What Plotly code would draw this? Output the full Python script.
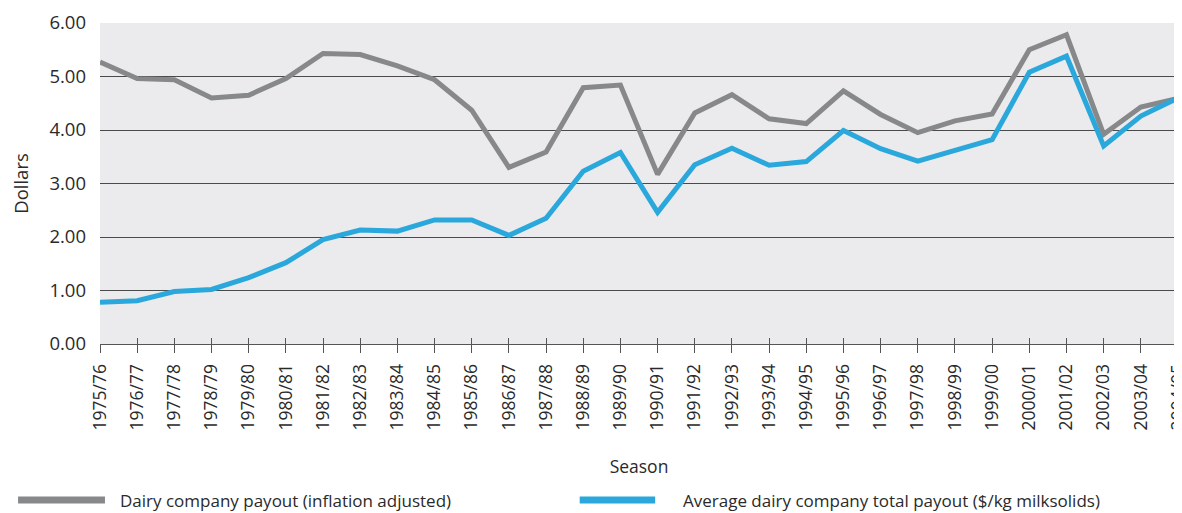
import plotly.graph_objects as go

seasons = ["1975/76", "1976/77", "1977/78", "1978/79", "1979/80", "1980/81",
           "1981/82", "1982/83", "1983/84", "1984/85", "1985/86", "1986/87",
           "1987/88", "1988/89", "1989/90", "1990/91", "1991/92", "1992/93",
           "1993/94", "1994/95", "1995/96", "1996/97", "1997/98", "1998/99",
           "1999/00", "2000/01", "2001/02", "2002/03", "2003/04", "2004/05"]

payout_inflation_adj = [5.27, 4.96, 4.94, 4.60, 4.65, 4.96, 5.43, 5.41, 5.20, 4.94,
                        4.37, 3.30, 3.59, 4.79, 4.84, 3.17, 4.32, 4.66, 4.21, 4.12,
                        4.73, 4.29, 3.95, 4.17, 4.30, 5.50, 5.78, 3.92, 4.43, 4.59]

payout_total = [0.78, 0.81, 0.98, 1.02, 1.24, 1.52, 1.95, 2.13, 2.11, 2.32,
                2.32, 2.03, 2.35, 3.23, 3.58, 2.46, 3.35, 3.66, 3.34, 3.41,
                3.99, 3.65, 3.42, 3.61, 3.82, 5.08, 5.38, 3.70, 4.26, 4.60]

y_ticks = [0, 1, 2, 3, 4, 5, 6]

name_gray = "Dairy company payout (inflation adjusted)"
name_blue = "Average dairy company total payout ($/kg milksolids)"

GRAY = "#87888A"
BLUE = "#2AA8DC"
TXT = "#2a2a2a"
FONT = "Open Sans"

fig = go.Figure()
fig.add_trace(go.Scatter(x=seasons, y=payout_inflation_adj, mode="lines", name=name_gray,
                         line=dict(color=GRAY, width=5), showlegend=False))
fig.add_trace(go.Scatter(x=seasons, y=payout_total, mode="lines", name=name_blue,
                         line=dict(color=BLUE, width=5), showlegend=False))
# invisible trace to carry the overlay axis (inner half of crossing ticks)
fig.add_trace(go.Scatter(x=seasons, y=payout_total, mode="lines", xaxis="x2",
                         line=dict(width=0), opacity=0, showlegend=False, hoverinfo="skip"))

# page has an 8px body margin, so the figure is 8px smaller than the window
fig.update_layout(
    width=1174, height=505,
    margin=dict(l=92, r=4, t=15, b=169),
    paper_bgcolor="white",
    plot_bgcolor="#EBEBED",
    font=dict(family=FONT, color=TXT),
    xaxis=dict(type="category", categoryarray=seasons, range=[0, len(seasons) - 1],
               automargin=False, ticklabeloverflow="allow",
               showgrid=False, showline=True, linecolor="#555", linewidth=1,
               ticks="outside", ticklen=8, tickcolor="#555", tickwidth=1,
               ticklabelstandoff=4,
               tickangle=-90, tickfont=dict(size=17.5, color=TXT, family=FONT),
               title=dict(text="Season", font=dict(size=17.5, color=TXT, family=FONT), standoff=31),
               zeroline=False),
    xaxis2=dict(type="category", categoryarray=seasons, range=[0, len(seasons) - 1],
                overlaying="x", anchor="y", side="bottom", showgrid=False,
                showticklabels=False, ticks="inside", ticklen=6, tickcolor="#555",
                tickwidth=1, showline=False, zeroline=False, automargin=False),
    yaxis=dict(range=[0, 6], tickvals=y_ticks, tickformat=".2f", automargin=False,
               showgrid=True, gridcolor="#4a4a4a", gridwidth=1, zeroline=False,
               showline=False, ticks="", ticklabelstandoff=13,
               tickfont=dict(size=18.5, color=TXT, family=FONT),
               title=dict(text="Dollars", font=dict(size=18.5, color=TXT, family=FONT), standoff=18)),
)

# custom legend (long line samples as in the reference)
legend_items = [(name_gray, GRAY, -0.076, 0.0046, 0.0168),
                (name_blue, BLUE, 0.445, 0.515, 0.539)]
for label, col, x0, x1, xt in legend_items:
    fig.add_shape(type="line", xref="paper", yref="paper", x0=x0, x1=x1, y0=-0.486, y1=-0.486,
                  line=dict(color=col, width=7))
    fig.add_annotation(text=label, xref="paper", yref="paper", x=xt, y=-0.486,
                       xanchor="left", yanchor="middle", showarrow=False,
                       font=dict(size=17, color=TXT, family=FONT))

fig.write_html("out.html")
